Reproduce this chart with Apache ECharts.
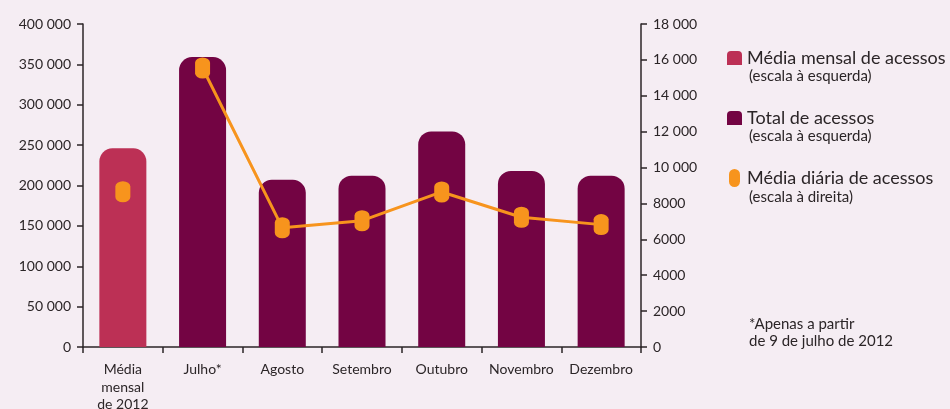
<!DOCTYPE html>
<html>
<head>
<meta charset="utf-8">
<script src="https://cdn.jsdelivr.net/npm/echarts@6/dist/echarts.min.js"></script>
<style>
html, body { margin: 0; padding: 0; background: #f5edf3; }
#chart { width: 950px; height: 409px; }
</style>
</head>
<body>
<div id="chart"></div>
<script>
// categorias e valores
var categorias = ['Média\nmensal\nde 2012', 'Julho*', 'Agosto', 'Setembro', 'Outubro', 'Novembro', 'Dezembro'];
var mediaMensal = [246000, '-', '-', '-', '-', '-', '-'];
var totalAcessos = ['-', 359000, 207000, 212000, 267000, 218000, 212000];
var mediaDiaria = ['-', 15550, 6650, 7040, 8640, 7230, 6820];
var mediaDiariaAno = [8650, '-', '-', '-', '-', '-', '-'];

var corTexto = '#2b2527';
var pill = 'path://M0,5 A5,5 0 0 1 10,5 L10,15 A5,5 0 0 1 0,15 Z';
var pillLegenda = 'path://M0,5.5 A5.5,5.5 0 0 1 11,5.5 L11,12.5 A5.5,5.5 0 0 1 0,12.5 Z';
var quadrado = 'path://M0,4 A4,4 0 0 1 4,0 L11,0 A4,4 0 0 1 15,4 L15,14 L0,14 Z';
var fonte = 'Lato, "Open Sans", sans-serif';

function fmt(v) {
	if (v >= 10000) {
		return String(v).replace(/\B(?=(\d{3})+(?!\d))/g, ' ');
	}
	return String(v);
}

var myChart = echarts.init(document.getElementById('chart'));

var option = {
	backgroundColor: '#f5edf3',
	animation: false,
	textStyle: { fontFamily: fonte },
	grid: {
		left: 83,
		right: 309,
		top: 24,
		bottom: 62,
		outerBoundsMode: 'none'
	},
	legend: {
		orient: 'vertical',
		left: 727,
		top: 48,
		padding: 0,
		itemGap: 40,
		itemWidth: 15,
		itemHeight: 18,
		textStyle: { color: corTexto, fontSize: 18, lineHeight: 20, fontFamily: fonte },
		data: [
			{ name: 'Média mensal de acessos', icon: quadrado },
			{ name: 'Total de acessos', icon: quadrado },
			{ name: 'Média diária de acessos', icon: pillLegenda }
		]
	},
	graphic: [
		{ type: 'text', left: 749, top: 69, style: { text: '(escala à esquerda)', fill: corTexto, font: '15px ' + fonte } },
		{ type: 'text', left: 749, top: 129, style: { text: '(escala à esquerda)', fill: corTexto, font: '15px ' + fonte } },
		{ type: 'text', left: 749, top: 190, style: { text: '(escala à direita)', fill: corTexto, font: '15px ' + fonte } },
		{ type: 'text', left: 749, top: 316, style: { text: '*Apenas a partir\nde 9 de julho de 2012', fill: corTexto, font: '15px ' + fonte, lineHeight: 17 } }
	],
	xAxis: {
		type: 'category',
		data: categorias,
		axisLine: { lineStyle: { color: corTexto, width: 1.5 } },
		axisTick: { show: true, length: 6, lineStyle: { color: corTexto, width: 1.5 } },
		axisLabel: { color: corTexto, fontSize: 14, lineHeight: 17.5, margin: 14, interval: 0 }
	},
	yAxis: [{
		type: 'value',
		min: 0,
		max: 400000,
		interval: 50000,
		splitLine: { show: false },
		axisLine: { show: true, lineStyle: { color: corTexto, width: 1.5 } },
		axisTick: { show: true, length: 6, lineStyle: { color: corTexto, width: 1.5 } },
		axisLabel: { color: corTexto, fontSize: 14, margin: 12, formatter: fmt }
	}, {
		type: 'value',
		min: 0,
		max: 18000,
		interval: 2000,
		position: 'right',
		splitLine: { show: false },
		axisLine: { show: true, lineStyle: { color: corTexto, width: 1.5 } },
		axisTick: { show: true, length: 6, lineStyle: { color: corTexto, width: 1.5 } },
		axisLabel: { color: corTexto, fontSize: 14, margin: 12, formatter: fmt }
	}],
	series: [{
		name: 'Média mensal de acessos',
		type: 'bar',
		barWidth: 47,
		barGap: '-100%',
		itemStyle: { color: '#bc3055', borderRadius: [13, 13, 0, 0] },
		data: mediaMensal
	}, {
		name: 'Total de acessos',
		type: 'bar',
		barWidth: 47,
		barGap: '-100%',
		itemStyle: { color: '#730443', borderRadius: [13, 13, 0, 0] },
		data: totalAcessos
	}, {
		name: 'Média diária de acessos',
		type: 'line',
		yAxisIndex: 1,
		symbol: pill,
		symbolSize: [15, 21],
		showAllSymbol: true,
		lineStyle: { color: '#f7941d', width: 3 },
		itemStyle: { color: '#f7941d' },
		data: mediaDiaria
	}, {
		name: 'Média diária de acessos',
		type: 'scatter',
		yAxisIndex: 1,
		symbol: pill,
		symbolSize: [15, 21],
		itemStyle: { color: '#f7941d', opacity: 1 },
		data: mediaDiariaAno
	}]
};

myChart.setOption(option);
</script>
</body>
</html>
